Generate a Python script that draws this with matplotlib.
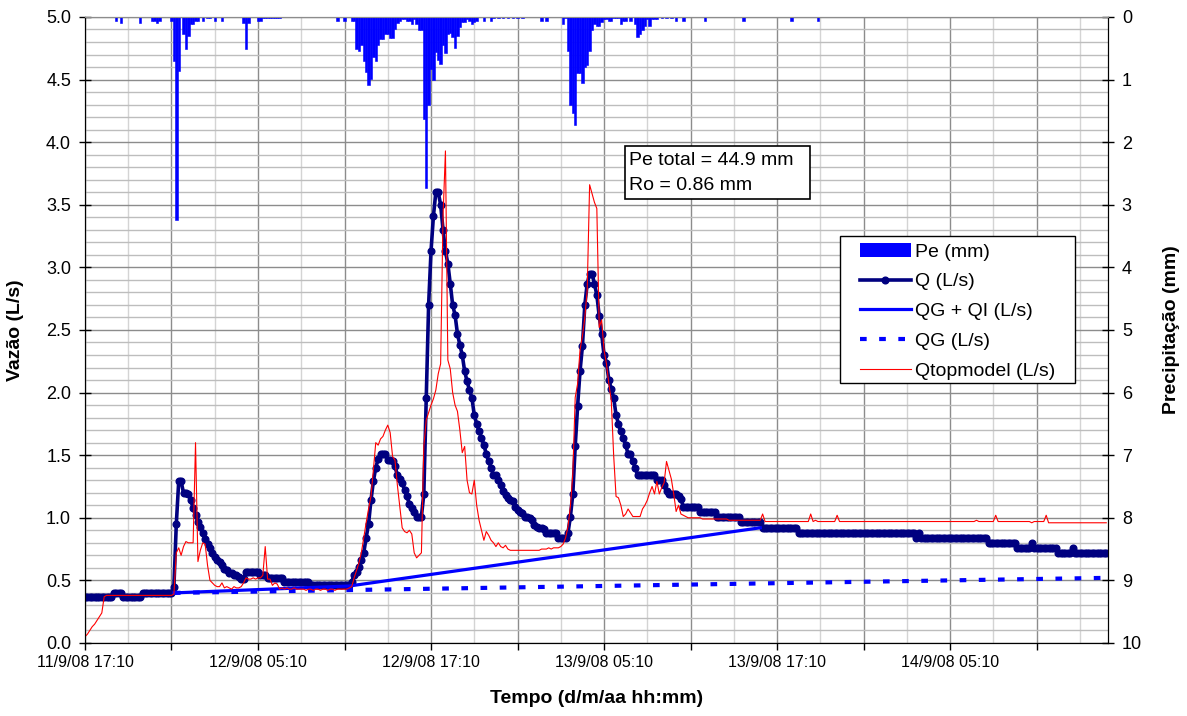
import matplotlib
matplotlib.use("Agg")
import matplotlib.pyplot as plt
import numpy as np
from matplotlib.lines import Line2D
from matplotlib.patches import Patch, Rectangle
from matplotlib.ticker import FixedLocator, FixedFormatter, MultipleLocator

plt.rcParams["font.family"] = ["Liberation Sans", "DejaVu Sans"]

# 10-minute steps starting 11/9/08 17:10
q_obs = [
    0.37, 0.37, 0.37, 0.37, 0.37, 0.37, 0.37, 0.37, 0.37, 0.37, 0.37, 0.37, 0.40, 0.40, 0.40, 0.40, 0.37, 0.37, 0.37, 0.37,
    0.37, 0.37, 0.37, 0.37, 0.40, 0.40, 0.40, 0.40, 0.40, 0.40, 0.40, 0.40, 0.40, 0.40, 0.40, 0.40, 0.40, 0.45, 0.95, 1.29,
    1.29, 1.20, 1.20, 1.19, 1.14, 1.08, 1.02, 0.97, 0.93, 0.88, 0.83, 0.79, 0.76, 0.72, 0.69, 0.66, 0.65, 0.62, 0.59, 0.58,
    0.56, 0.56, 0.54, 0.54, 0.53, 0.51, 0.51, 0.57, 0.57, 0.57, 0.57, 0.57, 0.57, 0.54, 0.54, 0.54, 0.52, 0.52, 0.52, 0.52,
    0.52, 0.52, 0.52, 0.49, 0.49, 0.49, 0.49, 0.49, 0.49, 0.49, 0.49, 0.49, 0.49, 0.49, 0.46, 0.46, 0.46, 0.46, 0.46, 0.46,
    0.46, 0.46, 0.46, 0.46, 0.46, 0.46, 0.46, 0.46, 0.46, 0.46, 0.46, 0.49, 0.54, 0.57, 0.61, 0.66, 0.72, 0.84, 0.95, 1.14,
    1.29, 1.40, 1.47, 1.51, 1.51, 1.51, 1.46, 1.46, 1.45, 1.41, 1.34, 1.31, 1.28, 1.22, 1.17, 1.11, 1.08, 1.05, 1.01, 1.01,
    1.01, 1.19, 1.96, 2.70, 3.13, 3.41, 3.60, 3.60, 3.50, 3.30, 3.13, 3.03, 2.87, 2.70, 2.62, 2.47, 2.38, 2.30, 2.17, 2.09,
    2.02, 1.96, 1.82, 1.75, 1.69, 1.64, 1.58, 1.51, 1.45, 1.40, 1.34, 1.34, 1.30, 1.26, 1.21, 1.18, 1.16, 1.14, 1.13, 1.09,
    1.06, 1.05, 1.04, 1.01, 1.01, 1.00, 0.98, 0.94, 0.93, 0.92, 0.92, 0.91, 0.88, 0.88, 0.88, 0.88, 0.88, 0.84, 0.84, 0.84,
    0.84, 0.88, 1.01, 1.19, 1.57, 1.89, 2.17, 2.37, 2.70, 2.87, 2.95, 2.95, 2.87, 2.78, 2.61, 2.47, 2.30, 2.24, 2.10, 2.03,
    1.96, 1.82, 1.75, 1.69, 1.64, 1.58, 1.51, 1.51, 1.45, 1.40, 1.34, 1.34, 1.34, 1.34, 1.34, 1.34, 1.34, 1.34, 1.30, 1.30,
    1.30, 1.26, 1.21, 1.19, 1.19, 1.19, 1.19, 1.17, 1.15, 1.09, 1.09, 1.09, 1.09, 1.09, 1.09, 1.09, 1.05, 1.05, 1.05, 1.05,
    1.05, 1.05, 1.05, 1.01, 1.01, 1.01, 1.01, 1.01, 1.01, 1.01, 1.01, 1.01, 1.01, 0.97, 0.97, 0.97, 0.97, 0.97, 0.97, 0.97,
    0.97, 0.97, 0.92, 0.92, 0.92, 0.92, 0.92, 0.92, 0.92, 0.92, 0.92, 0.92, 0.92, 0.92, 0.92, 0.92, 0.92, 0.88, 0.88, 0.88,
    0.88, 0.88, 0.88, 0.88, 0.88, 0.88, 0.88, 0.88, 0.88, 0.88, 0.88, 0.88, 0.88, 0.88, 0.88, 0.88, 0.88, 0.88, 0.88, 0.88,
    0.88, 0.88, 0.88, 0.88, 0.88, 0.88, 0.88, 0.88, 0.88, 0.88, 0.88, 0.88, 0.88, 0.88, 0.88, 0.88, 0.88, 0.88, 0.88, 0.88,
    0.88, 0.88, 0.88, 0.88, 0.88, 0.88, 0.84, 0.88, 0.84, 0.84, 0.84, 0.84, 0.84, 0.84, 0.84, 0.84, 0.84, 0.84, 0.84, 0.84,
    0.84, 0.84, 0.84, 0.84, 0.84, 0.84, 0.84, 0.84, 0.84, 0.84, 0.84, 0.84, 0.84, 0.84, 0.84, 0.84, 0.80, 0.80, 0.80, 0.80,
    0.80, 0.80, 0.80, 0.80, 0.80, 0.80, 0.80, 0.80, 0.76, 0.76, 0.76, 0.76, 0.76, 0.76, 0.80, 0.76, 0.76, 0.76, 0.76, 0.76,
    0.76, 0.76, 0.76, 0.76, 0.76, 0.72, 0.72, 0.72, 0.72, 0.72, 0.72, 0.76, 0.72, 0.72, 0.72, 0.72, 0.72, 0.72, 0.72, 0.72,
    0.72, 0.72, 0.72, 0.72, 0.72, 0.72,
]

q_topmodel = [
    0.05, 0.07, 0.10, 0.13, 0.15, 0.18, 0.21, 0.24, 0.37, 0.38, 0.38, 0.38, 0.38, 0.38, 0.38, 0.38, 0.38, 0.38, 0.38, 0.38,
    0.38, 0.38, 0.38, 0.38, 0.38, 0.38, 0.38, 0.38, 0.38, 0.38, 0.38, 0.38, 0.38, 0.38, 0.38, 0.38, 0.38, 0.39, 0.72, 0.76,
    0.70, 0.77, 0.81, 0.80, 0.80, 0.80, 1.60, 0.65, 0.74, 0.80, 0.79, 0.62, 0.50, 0.48, 0.46, 0.45, 0.45, 0.48, 0.44, 0.45,
    0.44, 0.43, 0.45, 0.44, 0.44, 0.45, 0.48, 0.52, 0.51, 0.51, 0.52, 0.51, 0.52, 0.52, 0.54, 0.77, 0.51, 0.51, 0.46, 0.48,
    0.47, 0.43, 0.44, 0.43, 0.44, 0.43, 0.43, 0.44, 0.43, 0.43, 0.43, 0.43, 0.42, 0.43, 0.43, 0.42, 0.43, 0.43, 0.42, 0.43,
    0.43, 0.42, 0.43, 0.43, 0.42, 0.43, 0.43, 0.43, 0.43, 0.43, 0.44, 0.45, 0.52, 0.58, 0.64, 0.72, 0.84, 0.96, 1.07, 1.17,
    1.38, 1.60, 1.58, 1.63, 1.65, 1.70, 1.74, 1.68, 1.49, 1.46, 1.26, 1.09, 0.92, 0.89, 0.88, 0.90, 0.87, 0.72, 0.68, 0.70,
    0.72, 1.57, 1.78, 1.84, 1.90, 1.95, 2.02, 2.15, 2.23, 3.41, 3.93, 2.26, 2.19, 2.00, 1.90, 1.85, 1.70, 1.52, 1.57, 1.30,
    1.20, 1.19, 1.30, 1.10, 0.98, 0.90, 0.82, 0.89, 0.86, 0.82, 0.80, 0.77, 0.80, 0.77, 0.76, 0.78, 0.75, 0.74, 0.74, 0.74,
    0.74, 0.74, 0.74, 0.74, 0.74, 0.74, 0.74, 0.74, 0.74, 0.74, 0.75, 0.75, 0.75, 0.76, 0.75, 0.76, 0.76, 0.76, 0.77, 0.79,
    0.84, 0.93, 1.09, 1.35, 1.96, 2.07, 2.34, 2.45, 2.60, 2.82, 3.66, 3.59, 3.52, 3.47, 2.52, 2.58, 2.34, 2.23, 2.07, 1.94,
    1.50, 1.17, 1.16, 1.10, 1.01, 1.03, 1.07, 1.04, 1.01, 1.01, 1.01, 1.01, 1.07, 1.10, 1.14, 1.20, 1.25, 1.19, 1.29, 1.19,
    1.24, 1.28, 1.45, 1.38, 1.31, 1.19, 1.05, 1.10, 1.03, 1.02, 1.01, 1.00, 1.00, 1.00, 1.00, 1.00, 1.00, 0.99, 0.99, 0.99,
    0.99, 0.99, 0.99, 0.99, 0.99, 0.99, 0.99, 0.99, 0.98, 0.98, 0.98, 0.98, 0.98, 0.98, 0.98, 0.98, 0.98, 0.98, 0.98, 0.98,
    0.98, 0.98, 1.03, 0.97, 0.97, 0.97, 0.97, 0.97, 0.97, 0.97, 0.97, 0.97, 0.97, 0.97, 0.97, 0.97, 0.97, 0.97, 0.97, 0.97,
    0.97, 0.97, 1.03, 0.97, 0.98, 0.97, 0.97, 0.97, 0.97, 0.97, 0.97, 0.97, 0.97, 1.02, 0.97, 0.97, 0.97, 0.97, 0.97, 0.97,
    0.97, 0.97, 0.97, 0.97, 0.97, 0.97, 0.97, 0.97, 0.97, 0.97, 0.97, 0.97, 0.97, 0.97, 0.97, 0.97, 0.97, 0.97, 0.97, 0.97,
    0.97, 0.97, 0.97, 0.97, 0.97, 0.97, 0.97, 0.97, 0.97, 0.97, 0.97, 0.97, 0.97, 0.97, 0.97, 0.97, 0.97, 0.97, 0.97, 0.97,
    0.97, 0.97, 0.97, 0.97, 0.97, 0.97, 0.97, 0.97, 0.97, 0.97, 0.97, 0.98, 0.97, 0.97, 0.97, 0.97, 0.97, 0.97, 0.97, 1.02,
    0.97, 0.97, 0.97, 0.97, 0.97, 0.97, 0.97, 0.97, 0.97, 0.97, 0.97, 0.97, 0.97, 0.97, 0.96, 0.97, 0.97, 0.97, 0.97, 0.97,
    1.02, 0.96, 0.96, 0.96, 0.96, 0.96, 0.96, 0.96, 0.96, 0.96, 0.96, 0.96, 0.96, 0.96, 0.96, 0.96, 0.96, 0.96, 0.96, 0.96,
    0.96, 0.96, 0.96, 0.96, 0.96, 0.96,
]

# rainfall: step index -> mm (only the steps with rain)
rain_step = [
    13, 15, 23, 28, 29, 30, 31, 36, 37, 38, 39, 41, 42, 43, 44, 45, 46, 47, 49, 51, 52, 54, 57,
    66, 67, 68, 72, 73, 74, 75, 76, 77, 78, 79, 80, 81, 105, 108, 111, 112,
    113, 114, 115, 116, 117, 118, 119, 120, 121, 122, 123, 124, 125, 126, 127, 128, 129, 130,
    131, 132, 133, 134, 135, 136, 137, 138, 139, 140, 141, 142, 143, 144, 145, 146, 147, 148,
    149, 150, 151, 152, 153, 154, 155, 156, 157, 158, 159, 160, 161, 162, 163, 166, 169,
    170, 172, 174, 176, 178, 180, 182, 190, 192, 199, 200, 201, 202, 203, 204, 205, 206, 207,
    208, 209, 210, 211, 212, 213, 214, 215, 216, 217, 218, 219, 220, 221, 222, 223, 224, 225,
    227, 229, 230, 231, 232, 233, 234, 235, 236, 237, 238, 240, 242, 244, 246, 249, 258, 274,
    294, 305,
]
rain_mm = [
    0.06, 0.10, 0.10, 0.06, 0.06, 0.10, 0.06, 0.06, 0.70, 3.24, 0.87, 0.27, 0.51, 0.31, 0.12, 0.12, 0.06, 0.06, 0.06, 0.02, 0.02, 0.06, 0.06,
    0.09, 0.51, 0.09, 0.06, 0.06, 0.02, 0.02, 0.02, 0.02, 0.02, 0.02, 0.02, 0.02, 0.06, 0.06, 0.06, 0.06,
    0.51, 0.55, 0.45, 0.71, 0.88, 1.09, 0.99, 0.64, 0.71, 0.45, 0.35, 0.35, 0.28, 0.28, 0.33, 0.33, 0.19, 0.09,
    0.06, 0.03, 0.03, 0.07, 0.07, 0.11, 0.03, 0.11, 0.21, 0.21, 1.63, 2.74, 1.40, 0.83, 1.01, 0.56, 0.68, 0.75,
    0.45, 0.57, 0.28, 0.26, 0.32, 0.50, 0.30, 0.16, 0.08, 0.08, 0.03, 0.07, 0.12, 0.08, 0.07, 0.07, 0.07,
    0.01, 0.01, 0.01, 0.01, 0.01, 0.01, 0.01, 0.06, 0.06, 0.11, 0.02, 0.55, 1.41, 1.54, 1.73, 0.89, 0.90, 1.06,
    0.80, 0.76, 0.55, 0.21, 0.11, 0.14, 0.14, 0.08, 0.03, 0.03, 0.07, 0.07, 0.02, 0.02, 0.02, 0.11, 0.07, 0.07,
    0.06, 0.11, 0.32, 0.27, 0.21, 0.14, 0.03, 0.14, 0.03, 0.03, 0.03, 0.01, 0.01, 0.01, 0.07, 0.07, 0.06, 0.06,
    0.06, 0.06,
]

# baseflow separation lines (step index, L/s)
qgqi_step = [37, 110, 281]
qgqi_val = [0.40, 0.455, 0.92]
qg_step = [37, 425]
qg_val = [0.40, 0.52]

tick_steps = [0, 72, 144, 216, 288, 360]
tick_labels = ["11/9/08 17:10", "12/9/08 05:10", "12/9/08 17:10",
               "13/9/08 05:10", "13/9/08 17:10", "14/9/08 05:10"]

steps = np.arange(len(q_obs))

fig = plt.figure(figsize=(11.87, 7.16), dpi=100)
ax = fig.add_axes([0.0716, 0.1020, 0.8618, 0.8743])
ax2 = ax.twinx()

ax.set_xlim(0, 425.7)
ax.set_ylim(0, 5)
ax2.set_ylim(10, 0)

# grid: dark every 6 h / 0.5 L/s, light every 3 h / 0.1 L/s
ax.set_axisbelow(True)
major_pos = np.arange(0, 426, 36)
ax.xaxis.set_major_locator(FixedLocator(major_pos))
ax.xaxis.set_minor_locator(MultipleLocator(18))
ax.yaxis.set_major_locator(MultipleLocator(0.5))
ax.yaxis.set_minor_locator(MultipleLocator(0.1))
ax.grid(which="major", axis="both", color="#8c8c8c", lw=1.0)
ax.grid(which="minor", axis="x", color="#d4d4d4", lw=1.0)
ax.grid(which="minor", axis="y", color="#bdbdbd", lw=1.0)

ax.xaxis.set_major_formatter(FixedFormatter(
    [tick_labels[tick_steps.index(p)] if p in tick_steps else "" for p in major_pos]))
ax.yaxis.set_major_formatter(plt.FuncFormatter(lambda v, _: f"{v:.1f}"))
ax.tick_params(axis="x", which="major", direction="out", length=5, width=1, labelsize=11.5, pad=4)
ax.tick_params(axis="y", which="major", direction="inout", length=8, width=1, labelsize=13, pad=6)
ax.tick_params(which="minor", length=0)

ax2.yaxis.set_major_locator(MultipleLocator(1))
ax2.tick_params(axis="y", direction="inout", length=8, width=1, labelsize=13, pad=6)

ax.spines["top"].set_color("#8c8c8c")
ax2.spines["top"].set_color("#8c8c8c")

# rainfall bars on the inverted right axis
ax2.bar(rain_step, rain_mm, width=1.0, color="#0000ff", ec="#0000ff", lw=0.4)

ax.plot(steps, q_obs, color="#000080", lw=2.6, marker="o", ms=4.8,
        mec="#000080", mfc="#000080", zorder=3)
ax.plot(qgqi_step, qgqi_val, color="#0000ff", lw=2.3, zorder=4)
ax.plot(qg_step, qg_val, color="#0000ff", lw=3.0, ls=(0, (1.6, 3.0)),
        dash_capstyle="butt", zorder=4)
ax.plot(steps, q_topmodel, color="#ff0000", lw=0.8, zorder=5)

ax.set_ylabel("Vazão (L/s)", fontsize=14, fontweight="bold")
ax.yaxis.set_label_coords(-0.060, 0.5)
ax2.set_ylabel("Precipitação (mm)", fontsize=14, fontweight="bold")
ax2.yaxis.set_label_coords(1.054, 0.5)
ax.set_xlabel("Tempo (d/m/aa hh:mm)", fontsize=14, fontweight="bold")
ax.xaxis.set_label_coords(0.5, -0.075)

# annotation box
ax2.add_patch(Rectangle((0.5279, 0.7093), 0.1808, 0.0847, transform=ax.transAxes,
                        fc="white", ec="black", lw=1.2, zorder=10))
ax2.text(0.5318, 0.7850, "Pe total = 44.9 mm\nRo = 0.86 mm", transform=ax.transAxes,
         fontsize=14, va="top", ha="left", linespacing=1.62, zorder=11)

# legend with an Excel-like frame
ax2.add_patch(Rectangle((0.738, 0.4153), 0.2297, 0.2348, transform=ax.transAxes,
                        fc="white", ec="black", lw=1.0, zorder=10))
handles = [
    Patch(facecolor="#0000ff", edgecolor="none"),
    Line2D([], [], color="#000080", lw=2.6, marker="o", ms=4.8),
    Line2D([], [], color="#0000ff", lw=2.3),
    Line2D([], [], color="#0000ff", lw=3.0, ls=(0, (1.6, 3.0)), dash_capstyle="butt"),
    Line2D([], [], color="#ff0000", lw=0.8),
]
labels = ["Pe (mm)", "Q (L/s)", "QG + QI (L/s)", "QG (L/s)", "Qtopmodel (L/s)"]
leg = ax2.legend(handles, labels, loc="upper left", bbox_to_anchor=(0.7576, 0.639),
                 fontsize=14, frameon=False, handlelength=2.6, handletextpad=0.25,
                 labelspacing=0.63, borderpad=0.0, borderaxespad=0.0, numpoints=1)
leg.set_zorder(12)

fig.savefig("out.png", dpi=100)
